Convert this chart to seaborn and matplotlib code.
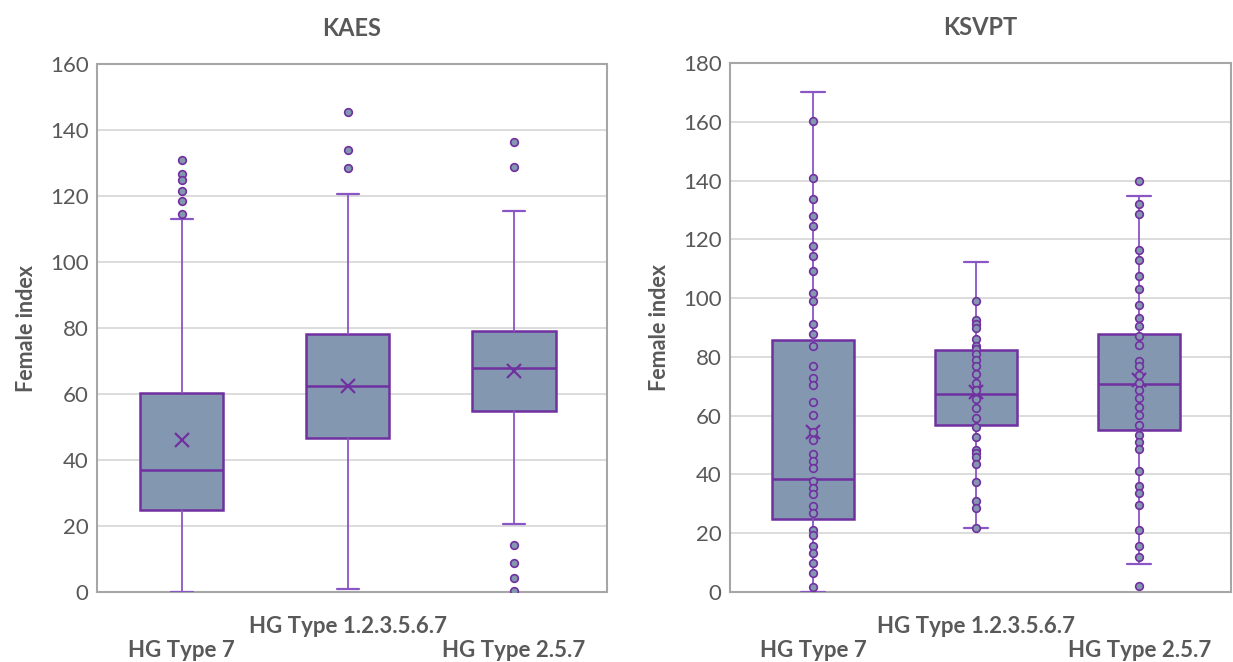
import numpy as np
import pandas as pd
import matplotlib
matplotlib.use("Agg")
import matplotlib.pyplot as plt
import seaborn as sns

cats = ["HG Type 7", "HG Type 1.2.3.5.6.7", "HG Type 2.5.7"]

# KAES box statistics
kaes_q1 = [24.8, 46.6, 54.8]
kaes_med = [37.1, 62.4, 67.9]
kaes_q3 = [60.4, 78.3, 79.1]
kaes_lo = [0.0, 1.0, 20.7]
kaes_hi = [113.1, 120.6, 115.4]
kaes_mean = [46.0, 62.3, 67.1]
kaes_out_7 = [130.9, 126.8, 124.8, 121.5, 118.5, 114.7]
kaes_out_123567 = [145.6, 133.8, 128.6]
kaes_out_257 = [136.5, 128.9, 14.2, 8.9, 4.3, 0.4]

# KSVPT box statistics
ksvpt_q1 = [24.8, 56.9, 55.2]
ksvpt_med = [38.3, 67.3, 70.8]
ksvpt_q3 = [85.6, 82.5, 87.8]
ksvpt_lo = [0.0, 21.7, 9.5]
ksvpt_hi = [170.0, 112.3, 134.7]
ksvpt_mean = [54.3, 67.9, 72.2]
# all data points (shown as inner points)
ksvpt_7 = [160.2, 141.0, 133.6, 127.9, 124.4, 117.7, 114.3, 109.1, 101.8, 99.1,
           91.2, 87.8, 83.8, 77.0, 72.8, 70.5, 64.8, 60.3, 54.5, 51.8, 47.0, 44.6,
           42.1, 37.8, 35.5, 33.3, 29.3, 27.0, 21.1, 19.4, 15.7, 13.2, 9.8, 6.6, 1.8]
ksvpt_123567 = [98.9, 92.7, 91.3, 89.8, 86.1, 83.6, 82.7, 81.1, 79.0, 76.8, 74.3,
                71.2, 68.8, 65.8, 62.6, 59.2, 56.0, 52.9, 48.4, 47.3, 45.9, 43.5,
                37.4, 31.1, 28.5, 21.7]
ksvpt_257 = [140.0, 131.9, 128.7, 116.3, 112.9, 107.7, 103.1, 97.6, 93.2, 90.6,
             87.0, 84.2, 78.7, 76.8, 73.9, 71.1, 68.8, 66.0, 63.1, 60.1, 56.9, 53.5,
             51.2, 48.7, 41.3, 36.1, 33.6, 29.7, 21.1, 15.8, 12.0, 2.0]

box_color = "#8497B0"
purple = "#7030A0"
whisk = "#8A55C4"
text_gray = "#595959"

sns.set_theme(style="white")
plt.rcParams["font.family"] = ["Lato", "DejaVu Sans"]

fig = plt.figure(figsize=(12.33, 6.62), dpi=100)
ax1 = fig.add_axes([0.0787, 0.1057, 0.4136, 0.7976])
ax2 = fig.add_axes([0.592, 0.1057, 0.406, 0.7991])


def make_stats(q1, med, q3, lo, hi, mean):
    stats = []
    for i in range(len(q1)):
        stats.append({"q1": q1[i], "med": med[i], "q3": q3[i],
                      "whislo": lo[i], "whishi": hi[i], "mean": mean[i],
                      "fliers": []})
    return stats


def long_df(groups):
    rows = []
    for c, vals in zip(cats, groups):
        for v in vals:
            rows.append({"group": c, "value": v})
    return pd.DataFrame(rows)


panels = [
    (ax1, "KAES", make_stats(kaes_q1, kaes_med, kaes_q3, kaes_lo, kaes_hi, kaes_mean),
     long_df([kaes_out_7, kaes_out_123567, kaes_out_257]), 160, 0.13),
    (ax2, "KSVPT", make_stats(ksvpt_q1, ksvpt_med, ksvpt_q3, ksvpt_lo, ksvpt_hi, ksvpt_mean),
     long_df([ksvpt_7, ksvpt_123567, ksvpt_257]), 180, 0.15),
]

for ax, title, stats, pts, ymax, capw in panels:
    sns.stripplot(data=pts, x="group", y="value", order=cats, jitter=False,
                  ax=ax, color=box_color, edgecolor=purple, linewidth=1.2,
                  size=5.5, zorder=4)
    ax.bxp(stats, positions=[0, 1, 2], widths=0.5, patch_artist=True,
           showmeans=True, showfliers=False, manage_ticks=False,
           boxprops=dict(facecolor=box_color, edgecolor=purple, linewidth=1.8),
           medianprops=dict(color=purple, linewidth=1.8),
           whiskerprops=dict(color=whisk, linewidth=1.3),
           capprops=dict(color=whisk, linewidth=1.6),
           capwidths=capw,
           meanprops=dict(marker="x", markeredgecolor=purple, markersize=10,
                          markeredgewidth=1.6),
           zorder=3)
    ax.set_ylim(0, ymax)
    ax.set_xlim(-0.51, 2.56)
    ax.set_yticks(np.arange(0, ymax + 1, 20))
    ax.yaxis.grid(True, color="#D9D9D9", linewidth=1.3, zorder=0)
    ax.set_axisbelow(True)
    ax.set_xticks([0, 1, 2])
    ax.set_xticklabels(["\n" + cats[0], cats[1], "\n" + cats[2]],
                       fontsize=16, fontweight="bold", color=text_gray,
                       linespacing=1.2)
    ax.tick_params(axis="x", length=0, pad=17)
    ax.tick_params(axis="y", length=0, labelsize=16, labelcolor=text_gray, pad=6)
    ax.set_xlabel("")
    ax.set_ylabel("Female index", fontsize=15.5, fontweight="bold", color=text_gray,
                  labelpad=9)
    ax.set_title(title, fontsize=17, fontweight="bold", color=text_gray, pad=20)
    for s in ax.spines.values():
        s.set_color("#A6A6A6")
        s.set_linewidth(1.5)
        s.set_visible(True)

fig.savefig("out.png", dpi=100)
